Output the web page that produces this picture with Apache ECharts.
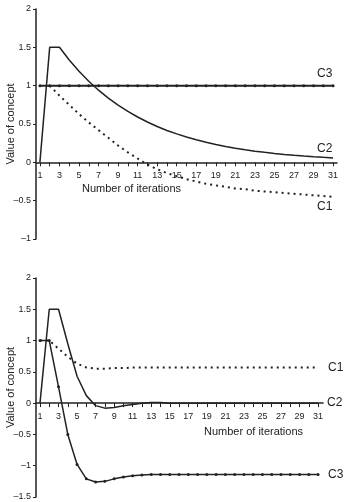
<!DOCTYPE html>
<html>
<head>
<meta charset="utf-8">
<script src="https://cdn.jsdelivr.net/npm/echarts@6/dist/echarts.min.js"></script>
<style>
  html, body { margin: 0; padding: 0; background: #fff; }
  #chart { width: 344px; height: 502px; }
</style>
</head>
<body>
<div id="chart"></div>
<script>
// iterations on the x axis
var iters = [1,2,3,4,5,6,7,8,9,10,11,12,13,14,15,16,17,18,19,20,21,22,23,24,25,26,27,28,29,30,31];
var xLabels = [1,3,5,7,9,11,13,15,17,19,21,23,25,27,29,31];

// upper panel
var topC1 = [null,1.0,0.87,0.75,0.63,0.52,0.42,0.32,0.22,0.13,0.05,-0.03,-0.09,-0.14,-0.18,-0.22,-0.25,-0.28,-0.30,-0.32,-0.34,-0.35,-0.37,-0.38,-0.39,-0.40,-0.41,-0.42,-0.43,-0.44,-0.45];
var topC2 = [0,1.5,1.5,1.335,1.188,1.057,0.941,0.838,0.745,0.664,0.591,0.526,0.468,0.416,0.371,0.330,0.294,0.261,0.233,0.207,0.184,0.164,0.146,0.130,0.116,0.103,0.092,0.082,0.073,0.065,0.058];
var topC3 = [1,1,1,1,1,1,1,1,1,1,1,1,1,1,1,1,1,1,1,1,1,1,1,1,1,1,1,1,1,1,1];

// lower panel
var botC1 = [1,1,0.87,0.74,0.63,0.57,0.55,0.55,0.56,0.56,0.57,0.57,0.57,0.57,0.57,0.57,0.57,0.57,0.57,0.57,0.57,0.57,0.57,0.57,0.57,0.57,0.57,0.57,0.57,0.57,0.57];
var botC2 = [0,1.5,1.5,0.95,0.43,0.12,-0.04,-0.08,-0.07,-0.04,-0.02,0,0.01,0.01,0,0,0,0,0,0,0,0,0,0,0,0,0,0,0,0,0];
var botC3 = [1,1,0.26,-0.5,-0.98,-1.21,-1.26,-1.25,-1.21,-1.18,-1.16,-1.15,-1.14,-1.14,-1.14,-1.14,-1.14,-1.14,-1.14,-1.14,-1.14,-1.14,-1.14,-1.14,-1.14,-1.14,-1.14,-1.14,-1.14,-1.14,-1.14];

var ink = '#222';
var font = 'Liberation Sans';

function pairs(vals) {
    var out = [];
    for (var i = 0; i < iters.length; i++) {
        if (vals[i] !== null) out.push([iters[i], vals[i]]);
    }
    return out;
}

// x axis is drawn at the bottom and pulled up to the zero line with offset,
// so that the tick labels come along with it
function xAxisOf(idx, min, max, lift) {
    return {
        type: 'value', gridIndex: idx, min: min, max: max, offset: -lift,
        axisLine: { show: true, onZero: false, lineStyle: { color: ink, width: 1.5 } },
        axisTick: { show: true, customValues: iters, length: 4, lineStyle: { color: ink } },
        axisLabel: { customValues: xLabels, color: ink, fontSize: 9, fontFamily: font, margin: 9 },
        splitLine: { show: false }
    };
}

function yAxisOf(idx, min) {
    return {
        type: 'value', gridIndex: idx, min: min, max: 2, interval: 0.5,
        name: 'Value of concept', nameLocation: 'middle', nameGap: 20, nameMoveOverlap: false,
        nameTextStyle: { color: ink, fontSize: 11, fontFamily: font },
        axisLine: { show: true, lineStyle: { color: ink, width: 1.5 } },
        axisTick: { show: true, length: 3, lineStyle: { color: ink } },
        axisLabel: {
            color: ink, fontSize: 9, fontFamily: font, margin: 5,
            formatter: function (v) { return String(v).replace('-', '\u2013'); }
        },
        splitLine: { show: false }
    };
}

function line(name, idx, vals, opts) {
    var s = {
        name: name, type: 'line', xAxisIndex: idx, yAxisIndex: idx,
        data: pairs(vals), smooth: false, animation: false,
        showSymbol: !!opts.dots, symbol: 'circle', symbolSize: 3,
        itemStyle: { color: ink },
        lineStyle: { color: ink, width: opts.width || 1.5, type: opts.dash || 'solid' },
        endLabel: {
            show: true, formatter: name, color: ink, fontSize: 12, fontFamily: font,
            offset: opts.off
        }
    };
    return s;
}

var option = {
    backgroundColor: '#fff',
    grid: [
        { left: 36, right: 7, top: 9, height: 230, outerBoundsMode: 'none', containLabel: false },
        { left: 36, right: 21, top: 278, height: 219, outerBoundsMode: 'none', containLabel: false }
    ],
    xAxis: [ xAxisOf(0, 0.6, 31.4, 76.7), xAxisOf(1, 0.57, 31.53, 93.9) ],
    yAxis: [ yAxisOf(0, -1), yAxisOf(1, -1.5) ],
    graphic: [
        { type: 'text', left: 82, top: 183, style: { text: 'Number of iterations', fill: ink, fontSize: 11, fontFamily: font } },
        { type: 'text', left: 204, top: 426, style: { text: 'Number of iterations', fill: ink, fontSize: 11, fontFamily: font } }
    ],
    series: [
        line('C3', 0, topC3, { dots: true, width: 2, off: [-24, -12] }),
        line('C2', 0, topC2, { off: [-24, -9] }),
        line('C1', 0, topC1, { dash: [2, 4], width: 2, off: [-24, 10] }),
        line('C1', 1, botC1, { dash: [2, 4], width: 2, off: [2, 0] }),
        line('C2', 1, botC2, { off: [1, 0] }),
        line('C3', 1, botC3, { dots: true, off: [2, 0] })
    ]
};

var chart = echarts.init(document.getElementById('chart'));
chart.setOption(option);
</script>
</body>
</html>
